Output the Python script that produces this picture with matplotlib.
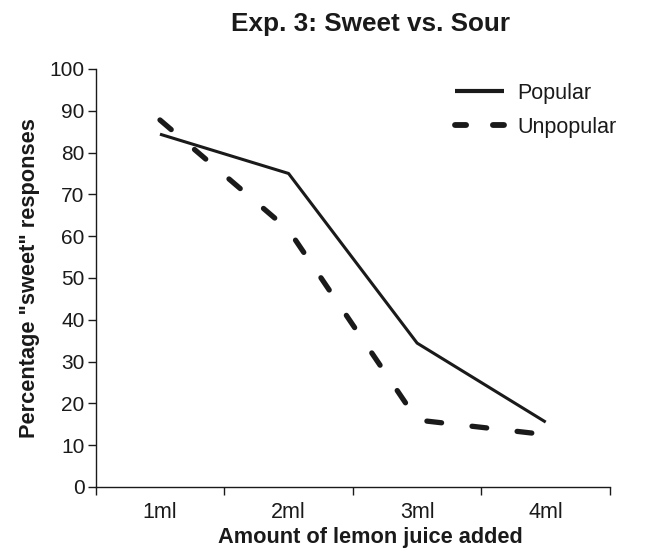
import matplotlib
matplotlib.use("Agg")
import matplotlib.pyplot as plt
from matplotlib.lines import Line2D

categories = ["1ml", "2ml", "3ml", "4ml"]
popular = [84.4, 75.0, 34.4, 15.5]
unpopular = [87.8, 61.5, 16.0, 12.5]

plt.rcParams['font.family'] = ['Liberation Sans', 'DejaVu Sans']

fig = plt.figure(figsize=(6.51, 5.52), dpi=100)
ax = fig.add_axes([0.147, 0.118, 0.79, 0.757])

x = list(range(len(categories)))
ax.plot(x, popular, color='#1a1a1a', lw=2.2, solid_capstyle='butt')
ax.plot(x, unpopular, color='#1a1a1a', lw=3.8, dashes=(2.8, 5.8), dash_capstyle='round')

ax.set_xlim(-0.5, 3.5)
ax.set_ylim(0, 100)
ax.set_yticks(range(0, 101, 10))
ax.set_xticks([-0.5, 0.5, 1.5, 2.5, 3.5])
ax.set_xticklabels([])
ax.set_xticks(x, minor=True)
ax.set_xticklabels(categories, minor=True)
ax.tick_params(axis='x', which='minor', length=0, pad=11, labelsize=15.5, colors='#1a1a1a')
ax.tick_params(axis='x', which='major', length=6, width=1, direction='out', colors='#1a1a1a')
ax.tick_params(axis='y', length=6, width=1, direction='out', labelsize=15, pad=2, colors='#1a1a1a')
for s in ['top', 'right']:
    ax.spines[s].set_visible(False)
for s in ['left', 'bottom']:
    ax.spines[s].set_linewidth(1.0)
    ax.spines[s].set_color('#1a1a1a')

ax.set_title('Exp. 3: Sweet vs. Sour', fontsize=18.8, fontweight='bold', pad=27,
             color='#1a1a1a', x=0.535)
ax.set_xlabel('Amount of lemon juice added', fontsize=15.7, fontweight='bold', labelpad=3,
              color='#1a1a1a', x=0.535)
ax.set_ylabel('Percentage "sweet" responses', fontsize=15.7, fontweight='bold', labelpad=7,
              color='#1a1a1a')

h_pop = Line2D([], [], color='#1a1a1a', lw=3.0, solid_capstyle='butt')
h_unp = Line2D([], [], color='#1a1a1a', lw=4.2, dashes=(1.9, 4.6), dash_capstyle='round')
leg = ax.legend([h_pop, h_unp], ['Popular', 'Unpopular'], loc='upper left', frameon=False,
                fontsize=15.5, handlelength=2.28, handletextpad=0.65,
                bbox_to_anchor=(0.66, 1.013), labelspacing=0.6)
for t in leg.get_texts():
    t.set_color('#1a1a1a')

fig.savefig('out.png', dpi=100)
